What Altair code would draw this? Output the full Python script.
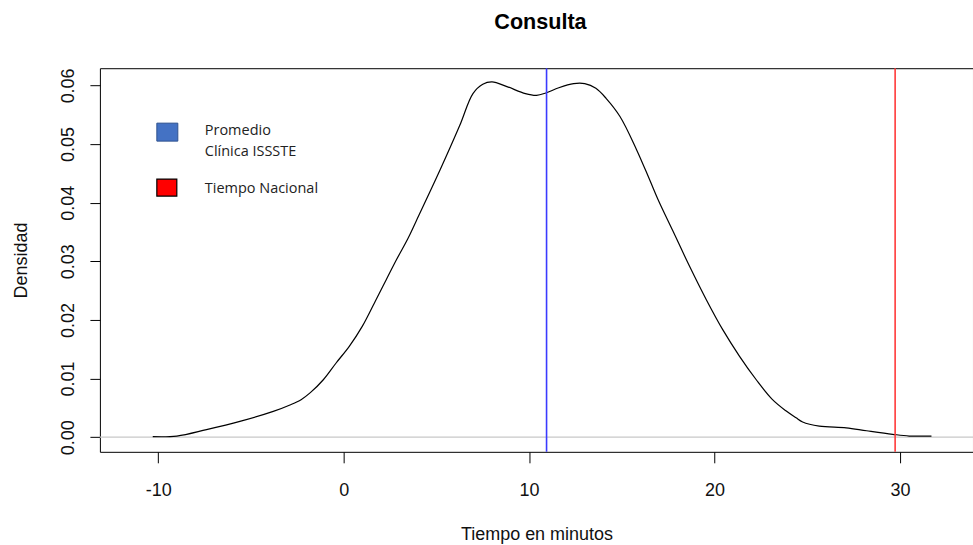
import altair as alt
import pandas as pd

# Estimated kernel density of consultation time (minutes)
dens_x = [-10.3, -9.0, -7.4, -5.6, -3.8, -2.9, -2.3, -1.8, -1.1, -0.4, 0.3, 1.0,
          1.75, 2.3, 2.85, 3.45, 3.9, 5.2, 6.25, 6.97, 7.5, 8.0, 8.8, 9.8, 10.4,
          10.9, 11.6, 12.4, 13.0, 13.6, 14.15, 14.9, 15.8, 16.5, 17.0, 17.75,
          18.6, 19.55, 20.45, 21.35, 22.25, 23.1, 23.85, 24.4, 24.75, 25.65,
          27.1, 28.2, 29.6, 30.5, 31.7]
dens_y = [0.0001, 0.0002, 0.0013, 0.0027, 0.0044, 0.0055, 0.0064, 0.0076, 0.0098,
          0.0127, 0.0155, 0.0189, 0.0235, 0.0269, 0.0303, 0.0338, 0.0368, 0.0456,
          0.0531, 0.0586, 0.0602, 0.0606, 0.0598, 0.0586, 0.0583, 0.0587, 0.0596,
          0.0603, 0.0603, 0.0595, 0.0578, 0.0547, 0.0490, 0.0439, 0.0402, 0.0352,
          0.0295, 0.0235, 0.0183, 0.0138, 0.0098, 0.0065, 0.0045, 0.0033, 0.0026,
          0.0019, 0.0016, 0.0011, 0.0005, 0.0002, 0.0002]

# Reference times drawn as vertical lines
ref_names = ["Promedio Clínica ISSSTE", "Tiempo Nacional"]
ref_values = [10.94, 29.74]
ref_colors = ["#3a3aff", "#ff3a3a"]

x_ticks = [-10, 0, 10, 20, 30]
y_ticks = [0.00, 0.01, 0.02, 0.03, 0.04, 0.05, 0.06]

X_DOMAIN = [-13.15, 33.94]
Y_DOMAIN = [-0.00249, 0.06293]

AXIS_FONT = "Liberation Sans"
LEGEND_FONT = "Open Sans"

dens = pd.DataFrame({"x": dens_x, "y": dens_y})
refs = pd.DataFrame({"name": ref_names, "value": ref_values, "color": ref_colors})

x_scale = alt.Scale(domain=X_DOMAIN, nice=False, zero=False)
y_scale = alt.Scale(domain=Y_DOMAIN, nice=False, zero=False)

x_axis = alt.Axis(
    values=x_ticks, labelExpr="'' + datum.value", grid=False, domain=False,
    tickSize=11, tickColor="black", tickWidth=1,
    labelFont=AXIS_FONT, labelFontSize=18, labelColor="#111",
    labelBaseline="top", labelPadding=19,
    title="Tiempo en minutos", titleFont=AXIS_FONT, titleFontSize=18,
    titleFontWeight="normal", titleColor="#111",
    titleY=83, titleBaseline="middle",
)
y_axis = alt.Axis(
    values=y_ticks, format=".2f", grid=False, domain=False,
    tickSize=10, tickColor="black", tickWidth=1,
    labelFont=AXIS_FONT, labelFontSize=18, labelColor="#111",
    labelAngle=270, labelAlign="center", labelBaseline="alphabetic",
    labelPadding=16,
    title="Densidad", titleFont=AXIS_FONT, titleFontSize=18,
    titleFontWeight="normal", titleColor="#111",
    titleAngle=270, titleX=-78, titleY=192, titleBaseline="middle",
    titleAlign="center",
)

zero_line = alt.Chart(pd.DataFrame({"y": [0.0]})).mark_rule(
    color="#c8c8c8", strokeWidth=1.2
).encode(y=alt.Y("y:Q", scale=y_scale, axis=y_axis))

curve = alt.Chart(dens).mark_line(
    color="black", strokeWidth=1.2, interpolate="catmull-rom"
).encode(
    x=alt.X("x:Q", scale=x_scale, axis=x_axis),
    y=alt.Y("y:Q", scale=y_scale, axis=y_axis),
)

ref_lines = alt.Chart(refs).mark_rule(strokeWidth=1.6).encode(
    x=alt.X("value:Q", scale=x_scale, axis=x_axis),
    color=alt.Color("color:N", scale=None),
)

# Hand-placed key in the upper-left corner of the plot
key_blue = alt.Chart(pd.DataFrame({"k": [0]})).mark_rect(
    fill="#4472c4", stroke="#2f528f", strokeWidth=1
).encode(x=alt.value(57), x2=alt.value(78), y=alt.value(55), y2=alt.value(73))
key_red = alt.Chart(pd.DataFrame({"k": [0]})).mark_rect(
    fill="#ff0000", stroke="black", strokeWidth=1.2
).encode(x=alt.value(57), x2=alt.value(77), y=alt.value(111), y2=alt.value(128))

key_text_style = dict(font=LEGEND_FONT, fontSize=14.5, color="#222",
                      align="left", baseline="middle")
key_t1 = alt.Chart(pd.DataFrame({"t": ["Promedio"]})).mark_text(**key_text_style).encode(
    text="t:N", x=alt.value(105), y=alt.value(63))
key_t2 = alt.Chart(pd.DataFrame({"t": ["Clínica ISSSTE"]})).mark_text(**key_text_style).encode(
    text="t:N", x=alt.value(105), y=alt.value(84))
key_t3 = alt.Chart(pd.DataFrame({"t": ["Tiempo Nacional"]})).mark_text(**key_text_style).encode(
    text="t:N", x=alt.value(105), y=alt.value(121))

chart = alt.layer(
    zero_line, curve, ref_lines, key_blue, key_red, key_t1, key_t2, key_t3
).properties(
    width=874,
    height=384,
    title=alt.TitleParams(
        "Consulta", font=AXIS_FONT, fontSize=21.6, fontWeight="bold",
        color="black", anchor="middle", frame="group", baseline="alphabetic",
        offset=17, dx=4,
    ),
    autosize=alt.AutoSizeParams(type="none"),
    padding={"left": 100, "top": 68, "right": 0, "bottom": 93},
).configure(
    background="white",
    view=alt.ViewConfig(stroke="black", strokeWidth=1),
)

chart.save("out.html", embed_options={"renderer": "svg", "actions": False})
